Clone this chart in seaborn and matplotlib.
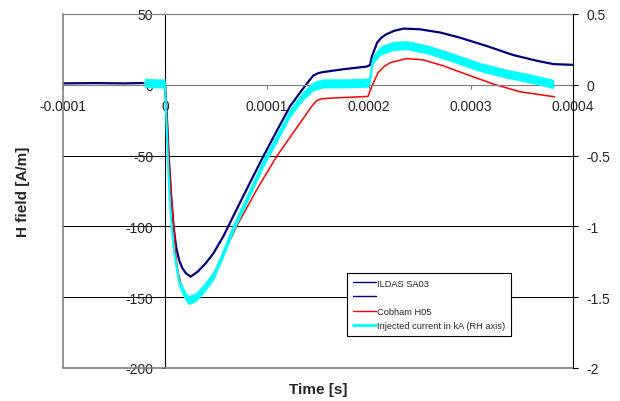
import numpy as np
import matplotlib
matplotlib.use('Agg')
import matplotlib.pyplot as plt
from matplotlib.lines import Line2D
import seaborn as sns

# ILDAS SA03 probe, H field [A/m] vs time [s]
ildas_t = [-1.0e-4, -7.0e-5, -4.0e-5, -1.0e-5, 0.0, 0.2e-5, 0.36e-5, 0.6e-5, 0.84e-5, 1.1e-5,
           1.39e-5, 1.7e-5, 2.04e-5, 2.52e-5, 3.2e-5, 4.0e-5, 4.75e-5, 5.72e-5, 6.7e-5, 8.2e-5,
           9.64e-5, 1.1e-4, 1.225e-4, 1.35e-4, 1.42e-4, 1.454e-4, 1.5e-4, 1.55e-4, 1.75e-4, 1.98e-4,
           2.01e-4, 2.03e-4, 2.08e-4, 2.12e-4, 2.17e-4, 2.25e-4, 2.34e-4, 2.5e-4, 2.7e-4, 2.89e-4,
           3.15e-4, 3.41e-4, 3.65e-4, 3.81e-4, 4.0e-4]
ildas_h = [1.0, 1.2, 1.0, 1.4, 1.3, -25, -50, -78, -100, -115,
           -124, -129.5, -133, -135.5, -132, -126, -119, -107, -92.7, -71,
           -50.5, -32, -15.3, -3, 3.5, 6.5, 8.2, 9.0, 11, 12.9,
           14, 20.4, 29.8, 33.2, 35.7, 38.2, 39.7, 39.2, 36.9, 33.3,
           27.5, 21.1, 16.9, 14.6, 14.1]

# Cobham H05 probe, H field [A/m]
cobham_t = [0.0, 0.2e-5, 0.36e-5, 0.6e-5, 0.86e-5, 1.07e-5, 1.3e-5, 1.55e-5, 2.04e-5, 2.4e-5,
            2.9e-5, 3.33e-5, 4.5e-5, 5.7e-5, 7.03e-5, 9.0e-5, 1.095e-4, 1.324e-4, 1.44e-4, 1.487e-4,
            1.53e-4, 1.6e-4, 1.99e-4, 2.03e-4, 2.09e-4, 2.15e-4, 2.21e-4, 2.37e-4, 2.53e-4, 2.73e-4,
            2.95e-4, 3.22e-4, 3.48e-4, 3.82e-4]
cobham_h = [0.0, -25, -50, -78, -100, -122, -133, -140, -149, -151.5,
            -150, -147, -137, -120, -99.8, -74, -50.5, -27, -15, -11.2,
            -10, -9.5, -8.2, -0.7, 8.7, 13.0, 15.7, 18.5, 17.6, 13.4,
            7.5, 0.5, -4.9, -8.5]

# injected current [kA], right hand axis
current_t = [-2.0e-5, -1.0e-5, 0.0, 0.26e-5, 0.45e-5, 0.65e-5, 0.9e-5, 1.39e-5, 2.04e-5, 2.36e-5,
             3.0e-5, 3.66e-5, 4.74e-5, 5.7e-5, 6.7e-5, 8.2e-5, 9.64e-5, 1.1e-4, 1.225e-4, 1.35e-4,
             1.454e-4, 1.55e-4, 1.75e-4, 1.99e-4, 2.01e-4, 2.04e-4, 2.11e-4, 2.24e-4, 2.37e-4, 2.57e-4,
             2.83e-4, 3.09e-4, 3.35e-4, 3.61e-4, 3.81e-4]
current_ka = [0.015, 0.01, 0.01, -0.50, -0.80, -1.00, -1.19, -1.40, -1.50, -1.52,
              -1.50, -1.45, -1.35, -1.19, -1.01, -0.78, -0.55, -0.37, -0.20, -0.08,
              -0.01, 0.01, 0.01, 0.015, 0.04, 0.18, 0.24, 0.275, 0.28, 0.25,
              0.19, 0.125, 0.078, 0.04, 0.005]
current_noise_ka = 0.032  # half width of the noise band on the current trace

series_names = ['ILDAS SA03', '', 'Cobham H05', 'Injected current in kA (RH axis)']

x_ticks = [-0.0001, 0, 0.0001, 0.0002, 0.0003, 0.0004]
x_tick_labels = ['-0.0001', '0', '0.0001', '0.0002', '0.0003', '0.0004']
h_ticks = [-200, -150, -100, -50, 0, 50]
h_tick_labels = ['-200', '-150', '-100', '-50', '0', '50']
ka_ticks = [-2, -1.5, -1, -0.5, 0, 0.5]
ka_tick_labels = ['-2', '-1.5', '-1', '-0.5', '0', '0.5']

NAVY = '#000080'
RED = '#ff0000'
CYAN = '#00ffff'
GREY = '#808080'

sns.set_style('white')
plt.rcParams['font.family'] = ['Liberation Sans', 'DejaVu Sans']

fig = plt.figure(figsize=(6.2, 4.02), dpi=100)
ax = fig.add_axes([63 / 620, 1 - 369 / 402, 510 / 620, 354 / 402])
ax2 = ax.twinx()

sns.lineplot(x=ildas_t, y=ildas_h, ax=ax, color=NAVY, linewidth=1.6)
sns.lineplot(x=cobham_t, y=cobham_h, ax=ax, color=RED, linewidth=1.1)

cur = np.array(current_ka)
ax2.fill_between(current_t, cur - current_noise_ka, cur + current_noise_ka, color=CYAN, lw=0)
sns.lineplot(x=current_t, y=current_ka, ax=ax2, color=CYAN, linewidth=1.5)

ax.set_xlim(-0.0001, 0.0004)
ax.set_ylim(-200, 50)
ax2.set_ylim(-2, 0.5)

ax.set_xticks(x_ticks, x_tick_labels)
ax.set_yticks(h_ticks, h_tick_labels)
ax2.set_yticks(ka_ticks, ka_tick_labels)

# excel style axes: y axis crossing at t=0, time axis crossing at H=0
ax.spines['left'].set_position(('data', 0))
ax.spines['left'].set_color('black')
ax.spines['bottom'].set_position(('data', 0))
ax.spines['bottom'].set_color(GREY)
ax.spines['top'].set_color(GREY)
ax.spines['right'].set_visible(False)
for s in ['left', 'top', 'bottom']:
    ax2.spines[s].set_visible(False)
ax2.spines['right'].set_color('black')
for sp in list(ax.spines.values()) + [ax2.spines['right']]:
    sp.set_linewidth(0.8)

ax.grid(axis='y', color='black', linewidth=0.75)
ax.grid(axis='x', visible=False)
ax.axvline(-0.0001, color=GREY, lw=1.2, clip_on=False, zorder=3)
ax.axhline(-200, color=GREY, lw=1.2, clip_on=False, zorder=3)

ax.tick_params(axis='y', left=True, direction='out', length=3, width=0.8, color='black',
               pad=5.5, labelsize=10)
ax.tick_params(axis='x', bottom=True, direction='out', length=3, width=0.8, color=GREY,
               pad=7, labelsize=10)
ax2.tick_params(axis='y', right=True, direction='out', length=3.5, width=0.8, color='black',
                pad=6, labelsize=10)

ax.set_xlabel('Time [s]', fontsize=11, fontweight='bold')
ax.xaxis.set_label_coords(0.5, -0.06)
ax.xaxis.label.set_va('center')
ax.set_ylabel('H field [A/m]', fontsize=11, fontweight='bold')
ax.yaxis.set_label_coords(-0.078, 0.5)
ax.yaxis.label.set_va('center')
ax2.set_ylabel('')

handles = [Line2D([], [], color=NAVY, lw=1.0), Line2D([], [], color=NAVY, lw=1.0),
           Line2D([], [], color=RED, lw=1.0), Line2D([], [], color=CYAN, lw=2.0)]
leg = fig.legend(handles, series_names, loc='upper left', bbox_to_anchor=(347 / 620, 1 - 274 / 402),
                 frameon=True, fancybox=False, edgecolor='black', framealpha=1, fontsize=6.7,
                 handlelength=2.5, handletextpad=0.15, borderpad=0.6, labelspacing=0.55,
                 borderaxespad=0)
leg.get_frame().set_linewidth(0.8)

fig.savefig('out.png', dpi=100)
